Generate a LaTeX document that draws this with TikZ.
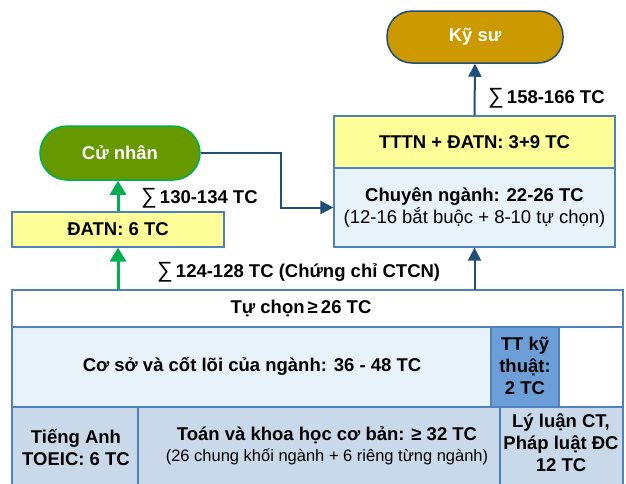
\documentclass[tikz,border=0pt]{standalone}
\usepackage{fontspec}
\setmainfont{Liberation Sans}
\usetikzlibrary{arrows.meta}
\definecolor{bordblue}{HTML}{4F81BD}
\definecolor{darkblue}{HTML}{1F4E79}
\definecolor{lyellow}{HTML}{FFFF99}
\definecolor{lblue}{HTML}{E7F3F8}
\definecolor{midblue}{HTML}{6C9ED8}
\definecolor{steel}{HTML}{C9D9EA}
\definecolor{gold}{HTML}{CC9900}
\definecolor{olive}{HTML}{669900}
\definecolor{brightgreen}{HTML}{00B050}
\newcommand{\sumsym}{{\mdseries\fontsize{22}{22}\selectfont ∑}\,}
\tikzset{
  txt/.style={font=\bfseries\fontsize{18.5}{22}\selectfont, align=center, inner sep=0pt},
  cell/.style={draw=bordblue, line width=1.2pt},
  pill/.style={rounded corners=25pt, line width=1.5pt, minimum height=52pt, text=white,
    font=\bfseries\fontsize{18.5}{22}\selectfont},
  garrow/.style={brightgreen, line width=3pt, -{Triangle[width=16pt,length=14pt]}},
  barrow/.style={darkblue, line width=2pt, -{Triangle[width=13pt,length=13pt]}},
  sumlbl/.style={font=\bfseries\fontsize{18.5}{22}\selectfont, inner sep=0pt}
}
\begin{document}
\begin{tikzpicture}[x=1pt,y=-1pt]
\useasboundingbox (0,0) rectangle (626,483);
\begin{scope}
\clip (0,0) rectangle (626,483);
% big block
\draw[cell, fill=white] (12,290) rectangle (623,327);
\node[txt] (tuchon) at (301,308.5) {Tự chọn\,≥\,26 TC};
\draw[cell, fill=lblue] (12,327) rectangle (491,407);
\node[txt] (coso) at (252,366) {Cơ sở và cốt lõi của ngành: 36 - 48 TC};
\draw[cell, fill=midblue] (491,327) rectangle (559,407);
\node[txt] (ttkt) at (525,366) {TT kỹ\\thuật:\\2 TC};
\draw[cell, fill=white] (559,327) rectangle (623,407);
\draw[cell, fill=steel] (12,407) rectangle (138,492);
\node[txt] (tienganh) at (76,447) {Tiếng Anh\\TOEIC: 6 TC};
\draw[cell, fill=steel] (138,407) rectangle (500,492);
\node[txt] (toan) at (327,446) {Toán và khoa học cơ bản: ≥ 32 TC\\[-1pt]{\mdseries\fontsize{16.5}{19}\selectfont (26 chung khối ngành + 6 riêng từng ngành)}};
\draw[cell, fill=steel] (500,407) rectangle (623,492);
\node[txt] (lyluan) at (561,443) {Lý luận CT,\\Pháp luật ĐC\\12 TC};
\end{scope}
\coordinate (top) at (317.5,290);
% upper boxes
\node[cell, fill=lyellow, minimum width=281pt, minimum height=52pt, txt] (tttn) at (474.5,142) {TTTN + ĐATN: 3+9 TC};
\node[cell, fill=lblue, minimum width=281pt, minimum height=79pt, txt] (chuyen) at (474.5,207.5) {Chuyên ngành: 22-26 TC\\{\mdseries (12-16 bắt buộc + 8-10 tự chọn)}};
\node[cell, fill=lyellow, minimum width=212pt, minimum height=35pt, txt] (datn) at (118,229.5) {ĐATN: 6 TC};
\node[pill, draw=darkblue, fill=gold, minimum width=176pt] (kysu) at (475,37) {Kỹ sư};
\node[pill, draw=brightgreen, fill=olive, minimum width=160pt, minimum height=54pt, rounded corners=27pt] (cunhan) at (120,153) {Cử nhân};
% arrows
\draw[garrow] (top -| datn) -- (datn.south);
\draw[garrow] (datn.north) -- (datn.north |- cunhan.south);
\draw[barrow] (top -| chuyen) -- (chuyen.south);
\draw[barrow] (tttn.north) -- (kysu.south);
\draw[barrow] (cunhan.east) -- (281,153) |- (chuyen.west);
% labels
\node[sumlbl, anchor=west] (s1) at (488,98) {\sumsym 158-166 TC};
\node[sumlbl, anchor=west] (s2) at (141,198) {\sumsym 130-134 TC};
\node[sumlbl, anchor=west] (s3) at (157,272) {\sumsym 124-128 TC (Chứng chỉ CTCN)};
\end{tikzpicture}
\end{document}
